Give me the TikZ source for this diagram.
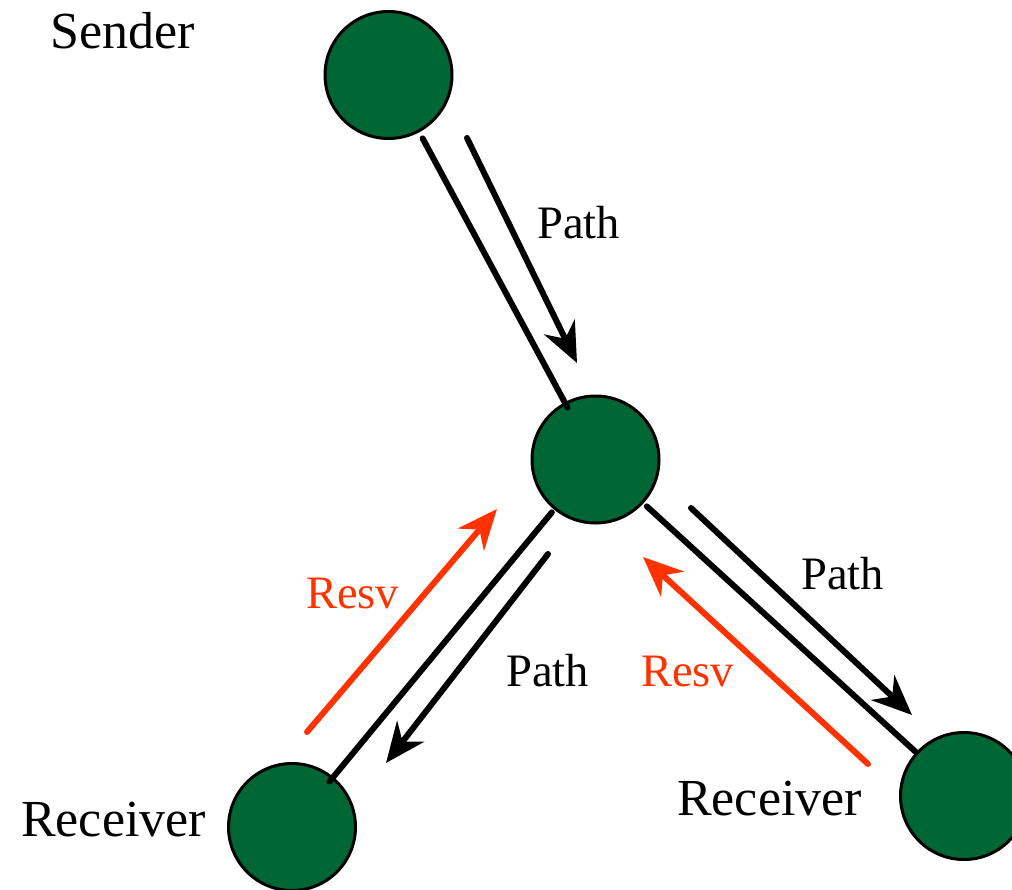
\documentclass[tikz,border=0pt]{standalone}
\usepackage{fontspec}
\setmainfont{Liberation Serif}
\usetikzlibrary{arrows.meta}
\definecolor{nodegreen}{HTML}{006633}
\definecolor{resvred}{HTML}{FF3300}
\tikzset{
  router/.style={circle,draw=black,line width=3pt,fill=nodegreen,minimum size=127pt,inner sep=0pt},
  link/.style={line width=6pt,line cap=round},
  msgarrow/.style={line width=6pt,line cap=round,-{Stealth[length=40pt,width=34pt,inset=13pt]}},
  resvarrow/.style={msgarrow,draw=resvred},
  biglabel/.style={anchor=base west,inner sep=0pt,font=\fontsize{52}{60}\selectfont},
  msglabel/.style={anchor=base west,inner sep=0pt,font=\fontsize{46.5}{55}\selectfont},
}
\begin{document}
\begin{tikzpicture}[x=1pt,y=-1pt]
\useasboundingbox (0,0) rectangle (1012,889);
\clip (0,0) rectangle (1012,889);
% routers
\node[router] (snd) at (388.5,75) {};
\node[router] (mid) at (595.5,459.5) {};
\node[router] (rl) at (292,827) {};
\node[router] (rr) at (964,796) {};
% links
\draw[link,shorten <=7pt,shorten >=-6pt] (snd) -- (mid);
\draw[link,shorten <=3.5pt,shorten >=-6pt] (mid) -- (rl);
\draw[link,shorten <=4.5pt,shorten >=1pt] (mid) -- (rr);
% arrow endpoints
\coordinate (p1s) at (467,138);  \coordinate (p1e) at (577,363);
\coordinate (p2s) at (548,554);  \coordinate (p2e) at (386,763);
\coordinate (r1s) at (307,732);  \coordinate (r1e) at (497,509);
\coordinate (p3s) at (691,508);  \coordinate (p3e) at (912,715);
\coordinate (r2s) at (868,764);  \coordinate (r2e) at (643,557);
\draw[msgarrow] (p1s) -- (p1e);
\draw[msgarrow] (p2s) -- (p2e);
\draw[msgarrow] (p3s) -- (p3e);
\draw[resvarrow] (r1s) -- (r1e);
\draw[resvarrow] (r2s) -- (r2e);
% labels
\node[biglabel] (lsnd) at (50,48) {Sender};
\node[biglabel] (lrl) at (21,836) {Receiver};
\node[biglabel] (lrr) at (677,815) {Receiver};
\node[msglabel] (lp1) at (537,238) {Path};
\node[msglabel] (lp2) at (506,686) {Path};
\node[msglabel] (lp3) at (801,589) {Path};
\node[msglabel,text=resvred] (lr1) at (306,608) {Resv};
\node[msglabel,text=resvred] (lr2) at (641,686) {Resv};
\end{tikzpicture}
\end{document}
